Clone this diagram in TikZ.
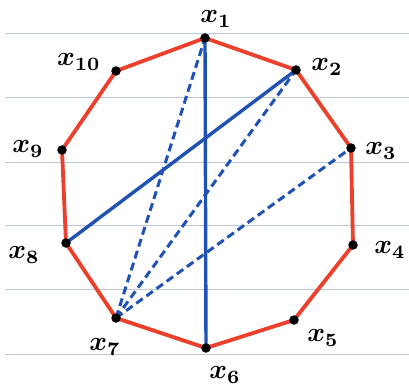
\documentclass[tikz,border=0pt]{standalone}
\usepackage{amsmath,bm}
\newcommand{\lbx}[1]{\scalebox{2.7}{$\bm{x_{#1}}$}}
\begin{document}
\begin{tikzpicture}[x=1pt,y=-1pt,
  ruled/.style={draw=rulecol,line width=0.9pt},
  edge/.style={draw=edgered,line width=3.8pt,line join=round},
  chord/.style={draw=chordblue,line width=3.4pt},
  dchord/.style={draw=chordblue,line width=3pt,dash pattern=on 8pt off 4.5pt},
  vtx/.style={circle,fill=black,inner sep=0pt,minimum size=9.5pt},
  lab/.style={inner sep=0pt}]
\definecolor{rulecol}{RGB}{185,198,222}
\definecolor{edgered}{RGB}{236,64,44}
\definecolor{chordblue}{RGB}{32,82,180}
\useasboundingbox (0,0) rectangle (409,390);
\foreach \yy in {33,97,162,225,289,354} \draw[ruled] (5,\yy) -- (409,\yy);
\coordinate (p1) at (205,38);
\coordinate (p2) at (296,70);
\coordinate (p3) at (351,148);
\coordinate (p4) at (353,245);
\coordinate (p5) at (294,320);
\coordinate (p6) at (206,348);
\coordinate (p7) at (116,318);
\coordinate (p8) at (66,243);
\coordinate (p9) at (62,150);
\coordinate (p10) at (116,71);
\draw[edge] (p1) -- (p2) -- (p3) -- (p4) -- (p5) -- (p6) -- (p7) -- (p8) -- (p9) -- (p10) -- cycle;
\draw[chord] (p1) -- (p6);
\draw[chord] (p2) -- (p8);
\draw[dchord] (p7) -- (p1);
\draw[dchord] (p7) -- (p2);
\draw[dchord] (p7) -- (p3);
\foreach \i in {1,...,10} \node[vtx] (v\i) at (p\i) {};
\node[lab] (l1) at (216,19) {\lbx{1}};
\node[lab] (l2) at (327,67) {\lbx{2}};
\node[lab] (l3) at (381,151) {\lbx{3}};
\node[lab] (l4) at (390,250) {\lbx{4}};
\node[lab] (l5) at (323,338) {\lbx{5}};
\node[lab] (l6) at (225,375) {\lbx{6}};
\node[lab] (l7) at (105,347) {\lbx{7}};
\node[lab] (l8) at (24,255) {\lbx{8}};
\node[lab] (l9) at (28,149) {\lbx{9}};
\node[lab] (l10) at (79,62) {\lbx{10}};
\end{tikzpicture}
\end{document}
